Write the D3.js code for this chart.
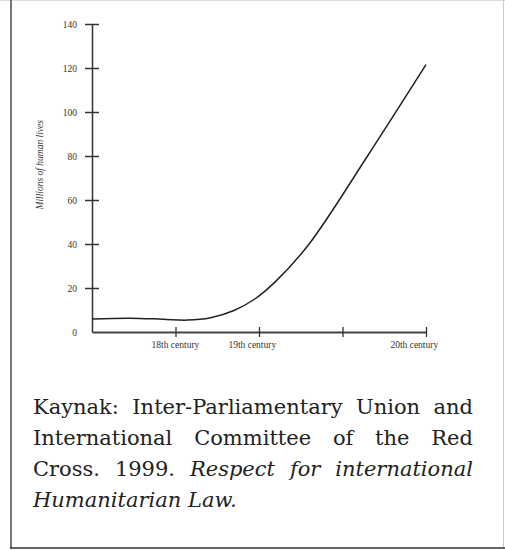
<!DOCTYPE html>
<html><head><meta charset="utf-8">
<script src="https://cdn.jsdelivr.net/npm/d3@7"></script>
<style>
html,body{margin:0;padding:0;background:#fff;}
svg{display:block;}
</style></head>
<body>
<script>
// ---- data ----
const centuryPos = [0, 0.45, 0.85, 1.14, 1.42, 1.7, 1.95, 2.2, 2.6, 3.3, 4.0];
const lives      = [5.9, 6.3, 5.8, 5.4, 6.5, 9.8, 15, 23, 40, 80, 121.5];
const yTicks = [0, 20, 40, 60, 80, 100, 120, 140];
const xTicks = [1, 2, 3, 4];
const xLabels = ["18th century", "19th century", "20th century"];
const xLabelPos = [1.0, 1.92, 3.86];
const yTitle = "Millions of human lives";
const captionLines = [
  [{t:"Kaynak: Inter-Parliamentary Union and", i:false}],
  [{t:"International Committee of the Red", i:false}],
  [{t:"Cross. 1999.", i:false}, {t:"Respect for international", i:true}],
  [{t:"Humanitarian Law.", i:true}]
];

const W = 505, H = 551;
const svg = d3.select("body").append("svg").attr("width", W).attr("height", H);

// frame
svg.append("line").attr("x1",0).attr("x2",W).attr("y1",0.5).attr("y2",0.5).attr("stroke","#ddd").attr("stroke-width",1);
svg.append("line").attr("x1",W-1.5).attr("x2",W-1.5).attr("y1",0).attr("y2",548).attr("stroke","#ccc").attr("stroke-width",1);
svg.append("line").attr("x1",11).attr("x2",11).attr("y1",0).attr("y2",549).attr("stroke","#555").attr("stroke-width",1.6);
svg.append("line").attr("x1",10).attr("x2",W).attr("y1",548).attr("y2",548).attr("stroke","#333").attr("stroke-width",1.6);

const x = d3.scaleLinear().domain([0, 4]).range([92, 426]);
const y = d3.scaleLinear().domain([0, 140]).range([332, 24]);
const serif = "'Liberation Serif', 'Times New Roman', serif";

// y axis
const gy = svg.append("g").attr("transform", `translate(${x(0)},0)`)
  .call(d3.axisLeft(y).tickValues(yTicks).tickSize(7).tickPadding(8).tickSizeOuter(0));
gy.select(".domain").attr("stroke","#333").attr("stroke-width",1.5);
gy.selectAll(".tick line").attr("x1",-7).attr("x2",7).attr("stroke","#333").attr("stroke-width",1.5)
  .filter(d => d === 0).remove();
gy.selectAll(".tick text").attr("font-family", serif).attr("font-size", 9.5).attr("fill","#333");

// x axis
const gx = svg.append("g").attr("transform", `translate(0,${y(0)})`)
  .call(d3.axisBottom(x).tickValues(xTicks).tickSize(5).tickSizeOuter(0).tickFormat(""));
gx.select(".domain").attr("stroke","#444").attr("stroke-width",1.8);
gx.selectAll(".tick line").attr("y1",-5).attr("y2",5).attr("stroke","#333").attr("stroke-width",1.3);
gx.selectAll(".xlab").data(xLabels).enter().append("text")
  .attr("x", (d,i) => x(xLabelPos[i])).attr("y", 16)
  .attr("text-anchor","middle").attr("font-family", serif).attr("font-size", 9.5).attr("fill","#333")
  .text(d => d);

// y title
svg.append("text").attr("transform", `translate(43,${y(76)}) rotate(-90)`)
  .attr("text-anchor","middle").attr("font-family", serif).attr("font-style","italic")
  .attr("font-size", 9.5).attr("fill","#333").text(yTitle);

// curve
const line = d3.line().x((d,i) => x(centuryPos[i])).y(d => y(d)).curve(d3.curveCatmullRom.alpha(0.5));
svg.append("path").datum(lives).attr("d", line).attr("fill","none").attr("stroke","#222").attr("stroke-width",1.5);

// caption, justified
const capFont = "'DejaVu Serif', serif";
const capSize = 21;
const left = 33, right = 473;
const baselines = [414, 445, 476, 507];
captionLines.forEach((segs, li) => {
  const words = [];
  segs.forEach(s => s.t.split(" ").forEach(w => words.push({w, i:s.i})));
  const nodes = words.map(o => svg.append("text").attr("y", baselines[li])
    .attr("font-family", capFont).attr("font-size", capSize).attr("fill","#222")
    .attr("font-style", o.i ? "italic" : "normal").text(o.w));
  const widths = nodes.map(n => n.node().getComputedTextLength());
  const total = d3.sum(widths);
  const last = li === captionLines.length - 1;
  const gap = last ? capSize*0.32 : (right - left - total) / (words.length - 1);
  let cx = left;
  nodes.forEach((n, k) => { n.attr("x", cx); cx += widths[k] + gap; });
});
</script>
</body></html>
